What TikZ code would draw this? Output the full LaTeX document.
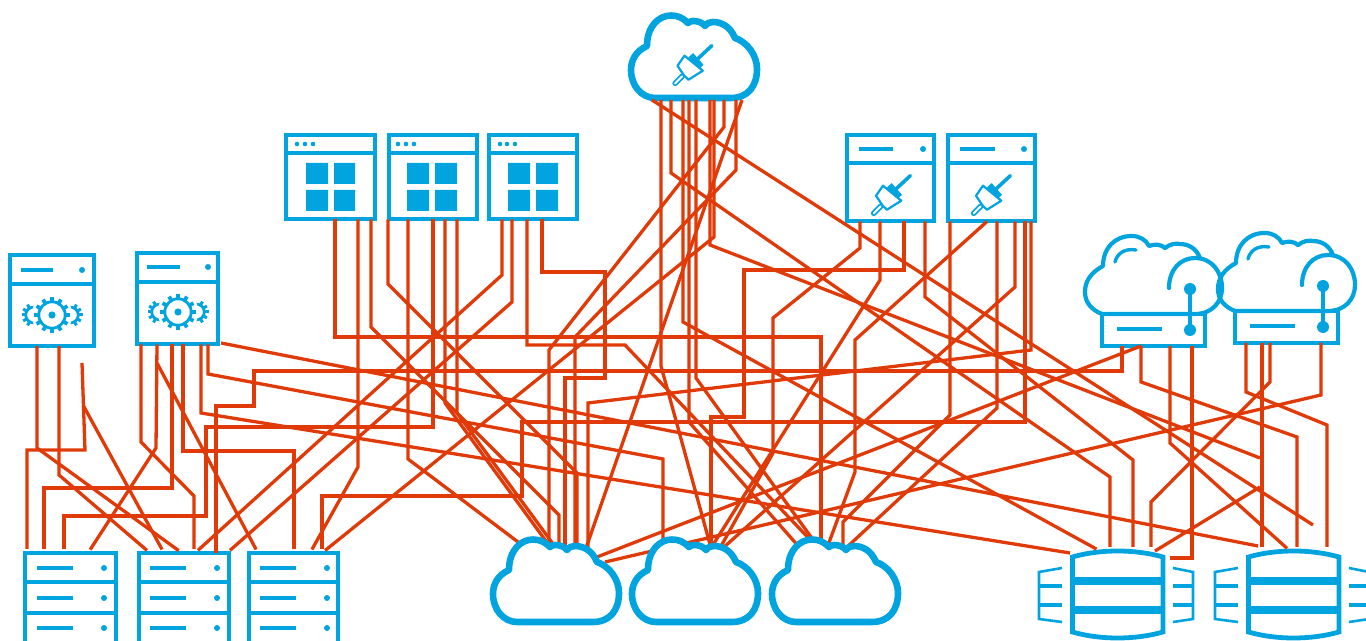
\documentclass[tikz,border=0pt]{standalone}
\usetikzlibrary{fit}
\definecolor{netblue}{HTML}{02A4E0}
\definecolor{wirered}{HTML}{E03A08}
\tikzset{
  px/.style={x=0.5pt,y=-0.5pt},
  devbox/.style={draw=netblue,line width=2pt,inner sep=0pt,outer sep=0pt},
  anchorbox/.style={inner sep=0pt,outer sep=0pt},
  wire/.style={draw=wirered,line width=1.65pt},
  wirein/.style={wire,shorten >=2pt},
  bluethin/.style={draw=netblue,line width=2pt},
  dashbar/.style={draw=netblue,line width=2pt},
  dotfill/.style={fill=netblue,draw=none},
  cloudline/.style={draw=netblue,line width=3.3pt,fill=white},
}
% header bar of a server: divider, dash and status dot
\newcommand\hdr[7]{% x1 x2 ydiv dash1 dash2 ydash xdot
  \draw[bluethin] (#1,#3) -- (#2,#3);
  \draw[dashbar] (#4,#6) -- (#5,#6);
  \fill[dotfill] (#7,#6) circle[radius=3];
}
\newcommand\gearicon[2]{%
  \begin{scope}[shift={(#1,#2)}]
    \foreach \sx/\st in {-18.5/180,18.5/0}{
      \begin{scope}[shift={(\sx,0)}]
        \draw[draw=netblue,line width=1.4pt] (0,0) circle[radius=7.8];
        \foreach \a in {-60,-30,...,60}{\draw[draw=netblue,line width=1.5pt] (\st+\a:7.8) -- (\st+\a:12);}
      \end{scope}
    }
    \fill[white] (0,0) circle[radius=20.5];
    \draw[draw=netblue,line width=1.4pt] (0,0) circle[radius=13.2];
    \foreach \a in {0,30,...,330}{\draw[draw=netblue,line width=1.9pt] (\a:13.2) -- (\a:17.8);}
    \fill[dotfill] (0,0) circle[radius=3.6];
  \end{scope}
}
\newcommand\plugicon[2]{%
  \begin{scope}[shift={(#1,#2)}]
    \draw[draw=netblue,line width=1.8pt,line cap=round] (19.3,-18.3) -- (5,-5);
    \draw[draw=netblue,line width=3.2pt] (-1.7,-8.8) -- (8.6,3);
    \draw[draw=netblue,line width=1.1pt,line join=round,fill=white] (-8,-8.3) -- (10.3,6.7) -- (-4,15.7) -- (-8.3,11.7) -- (-15,1.7) -- cycle;
    \draw[draw=netblue,line width=2.8pt,line cap=round] (-10.3,12.3) -- (-17.3,19.3);
    \draw[draw=white,line width=1pt,line cap=round] (-10.3,12.3) -- (-17.3,19.3);
  \end{scope}
}
\newcommand\cloudshape[2]{%
  \begin{scope}[shift={(#1,#2)}]
    \draw[cloudline,line join=round] (37,92) -- (113,92)
      .. controls (130,92) and (139,80) .. (139,63)
      .. controls (139,49) and (129,36) .. (117,32)
      .. controls (112,20) and (103,16) .. (95,16)
      .. controls (92,16) and (89,17) .. (87,20)
      .. controls (84,16) and (79,15) .. (75,15)
      .. controls (73,15) and (71,16) .. (70,17)
      .. controls (65,12) and (60,9.5) .. (53,9.5)
      .. controls (41,9.5) and (29,20) .. (29,40)
      .. controls (18,45) and (13,54) .. (13,64)
      .. controls (13,80) and (24,92) .. (37,92) -- cycle;
  \end{scope}
}
\newcommand\hostcloud[2]{%
  \begin{scope}[shift={(#1,#2)}]
    \draw[draw=netblue,line width=2.1pt,line join=round,line cap=round]
      (1169,288) .. controls (1169,270) and (1180,258) .. (1195,258)
      .. controls (1212,258) and (1222,272) .. (1222,288)
      .. controls (1222,302) and (1212,314) .. (1195,314)
      -- (1102,314)
      .. controls (1092,310) and (1085,303) .. (1085,292)
      .. controls (1085,280) and (1092,272) .. (1103,266)
      .. controls (1103,248) and (1115,236) .. (1131.5,236)
      .. controls (1140,236) and (1146,240) .. (1149,246)
      .. controls (1154,244) and (1161,244) .. (1165,248)
      .. controls (1170,244) and (1176,243) .. (1180,244)
      .. controls (1190,244) and (1197,250) .. (1200,258);
    \draw[draw=netblue,line width=1.7pt,line cap=round] (1115,262) .. controls (1117,254) and (1124,248) .. (1136,250);
    \draw[dashbar] (1117,329) -- (1162,329);
    \draw[draw=netblue,line width=1.6pt] (1190,289) -- (1190,330);
    \fill[dotfill] (1190,289) circle[radius=6];
    \fill[dotfill] (1190,330) circle[radius=6];
  \end{scope}
}
\newcommand\dbshape[1]{%
  \begin{scope}[shift={(#1,0)}]
    \draw[draw=netblue,line width=2.4pt,line join=miter] (1072.5,557) .. controls (1100,549) and (1135,549) .. (1163,557)
      -- (1163,632) .. controls (1135,640) and (1100,640) .. (1072.5,632) -- cycle;
    \draw[draw=netblue,line width=3.6pt] (1072.5,581) -- (1163,581);
    \draw[draw=netblue,line width=3.6pt] (1072.5,610) -- (1163,610);
    \draw[draw=netblue,line width=1.3pt] (1062,568) -- (1039,572) -- (1039,619) -- (1062,622);
    \draw[draw=netblue,line width=1.3pt] (1173,568) -- (1193,572) -- (1193,619) -- (1173,622);
    \draw[draw=netblue,line width=2pt] (1039,586) -- (1062,586);
    \draw[draw=netblue,line width=2pt] (1039,605) -- (1062,605);
    \draw[draw=netblue,line width=2pt] (1173,586) -- (1193,586);
    \draw[draw=netblue,line width=2pt] (1173,605) -- (1193,605);
  \end{scope}
}
\begin{document}
\begin{tikzpicture}[px]
\useasboundingbox (0,0) rectangle (1366,641);
% ---------- devices ----------
\node[devbox,fit={(10,255)(93.5,346)}] (gearA) {};
\hdr{10}{93.5}{284}{21}{53}{270}{82}
\gearicon{52}{315}
\node[devbox,fit={(137,253.5)(218,344.5)}] (gearB) {};
\hdr{137}{218}{282}{147}{180}{267}{208}
\gearicon{178}{312}
% application windows
\foreach \nm/\xa/\xb/\da/\db/\dc/\sa/\sb/\sc/\sd in {
   app1/286/375/297/305/313/306/328/334/355,
   app2/388.5/476.5/398/406/414/407/429/435/457,
   app3/489/577/500/507/515/508/530/536/558}{
  \node[devbox,fit={(\xa,135)(\xb,219.5)}] (\nm) {};
  \draw[bluethin] (\xa,153) -- (\xb,153);
  \fill[dotfill] (\da,144) circle[radius=2.3] (\db,144) circle[radius=2.3] (\dc,144) circle[radius=2.3];
  \fill[netblue] (\sa,163) rectangle (\sb,184) (\sc,163) rectangle (\sd,184)
                 (\sa,190) rectangle (\sb,211) (\sc,190) rectangle (\sd,211);
}
% plug servers
\node[devbox,fit={(846.5,135)(933.5,221.5)}] (plugA) {};
\hdr{846.5}{933.5}{163}{859}{893}{149}{923}
\plugicon{891}{194}
\node[devbox,fit={(947.5,135)(1034.5,221.5)}] (plugB) {};
\hdr{947.5}{1034.5}{163}{960}{995}{149}{1024}
\plugicon{991}{194}
% top cloud
\node[anchorbox,fit={(631,20)(756,100)}] (cloudT) {};
\cloudshape{618}{6}
\plugicon{692.5}{64}
% hybrid clouds
\node[devbox,fit={(1102,314.5)(1205,346)}] (hostA) {};
\hostcloud{0}{0}
\node[devbox,fit={(1235,311.5)(1338,343)}] (hostB) {};
\hostcloud{133}{-3}
% racks
\foreach \nm/\xa/\xb/\da/\db/\dt in {rack1/25/116/37/73/104,rack2/139/229/150/186/217,rack3/249/338/260/296/327}{
  \node[devbox,fit={(\xa,553)(\xb,650)}] (\nm) {};
  \draw[bluethin] (\xa,582) -- (\xb,582) (\xa,613) -- (\xb,613);
  \draw[dashbar] (\da,568) -- (\db,568) (\da,598) -- (\db,598) (\da,628) -- (\db,628);
  \fill[dotfill] (\dt,568) circle[radius=3] (\dt,598) circle[radius=3] (\dt,628) circle[radius=3];
}
% targets
\node[anchorbox,fit={(493,548)(619,622)}] (c1) {};
\node[anchorbox,fit={(632,548)(758,622)}] (c2) {};
\node[anchorbox,fit={(772,548)(898,622)}] (c3) {};
\node[anchorbox,fit={(1073,551)(1163,638)}] (db1) {};
\node[anchorbox,fit={(1249,551)(1339,638)}] (db2) {};
\dbshape{0}
\dbshape{176}
% free ends
\coordinate (a3) at (82,363);
\coordinate (a3b) at (83,405);
\coordinate (b3) at (157,363);
\coordinate (bE) at (221,343);
\coordinate (dbAin) at (1070,553);
\coordinate (dbBin) at (1258,546);
\coordinate (farEnd) at (1313,525);
\coordinate (mid1) at (1260,458);
\coordinate (mid2) at (1260,487);
\coordinate (cE1) at (597,557);
\coordinate (cE2) at (605,562);
\coordinate (hook) at (1170,558);
% ---------- wires ----------
% gear server A
\draw[wirein] (37,0 |- gearA.south) -- (37,448) -- (182,0 |- rack2.north);
\draw[wirein] (59,0 |- gearA.south) -- (59,475) -- (150,0 |- rack2.north);
\draw[wirein] (a3) -- (85,450) -- (27,450) -- (27,0 |- rack1.north);
\draw[wirein] (a3b) -- (164,0 |- rack2.north);
% gear server B
\draw[wirein] (141,0 |- gearB.south) -- (141,442) -- (194,496) -- (194,0 |- rack2.north);
\draw[wirein] (157,0 |- gearB.south) -- (156,448) -- (88,0 |- rack1.north);
\draw[wirein] (b3) -- (258,0 |- rack3.north);
\draw[wirein] (172,0 |- gearB.south) -- (172,488) -- (44,488) -- (44,0 |- rack1.north);
\draw[wirein] (183,0 |- gearB.south) -- (183,451) -- (294,451) -- (294,0 |- rack3.north);
\draw[wire] (201,0 |- gearB.south) -- (201,413) -- (dbAin);
\draw[wire] (208,0 |- gearB.south) -- (208,374) -- (663,459) -- (663,0 |- c2.north);
\draw[wire] (bE) -- (dbBin);
% long orthogonal runs
\draw[wire] (216,0 |- rack2.north) -- (216,406) -- (254,406) -- (254,371) -- (1122,371) -- (1122,0 |- hostA.south);
\draw[wirein] (433,0 |- app2.south) -- (433,427) -- (206,427) -- (206,516) -- (64,516) -- (64,0 |- rack1.north);
\draw[wire] (335,0 |- app1.south) -- (335,337) -- (821,337) -- (821,0 |- c3.north);
\draw[wirein] (1025,0 |- plugB.south) -- (1025,422) -- (522,422) -- (522,496) -- (322,496) -- (322,0 |- rack3.north);
% applications
\draw[wirein] (358,0 |- app1.south) -- (358,467) -- (310,0 |- rack3.north);
\draw[wire] (371,0 |- app1.south) -- (371,327) -- (559,515) -- (559,0 |- c1.north);
\draw[wire] (388,0 |- app2.south) -- (388,284) -- (577,473) -- (577,0 |- c1.north);
\draw[wire] (408,0 |- app2.south) -- (408,459) -- (526,0 |- c1.north);
\draw[wire] (445,0 |- app2.south) -- (445,403) -- (551,0 |- c1.north);
\draw[wire] (457,0 |- app2.south) -- (457,413) -- (556,0 |- c1.north);
\draw[wirein] (502,0 |- app3.south) -- (502,275) -- (195,0 |- rack2.north);
\draw[wirein] (512,0 |- app3.south) -- (512,302) -- (227,0 |- rack2.north);
\draw[wire] (527,0 |- app3.south) -- (527,345) -- (625,345) -- (818,0 |- c3.north);
\draw[wire] (542,0 |- app3.south) -- (542,272) -- (605,272) -- (605,378) -- (565,378) -- (565,0 |- c1.north);
% top cloud
\draw[wire] (652,0 |- cloudT.south) -- (farEnd);
\draw[wire] (661,0 |- cloudT.south) -- (661,366) -- (711,0 |- c2.north);
\draw[wirein] (671,0 |- cloudT.south) -- (671,173) -- (1110,477) -- (1110,0 |- db1.north);
\draw[wirein] (683,0 |- cloudT.south) -- (683,322) -- (1100,0 |- db1.north);
\draw[wire] (689,0 |- cloudT.south) -- (689,422) -- (800,0 |- c3.north);
\draw[wire] (696,0 |- cloudT.south) -- (696,378) -- (819,0 |- c3.north);
\draw[wire] (710,0 |- cloudT.south) -- (710,245) -- (mid1);
\draw[wirein] (714,0 |- cloudT.south) -- (714,237) -- (322,0 |- rack3.north);
\draw[wire] (724,0 |- cloudT.south) -- (724,127) -- (549,350) -- (549,0 |- c1.north);
\draw[wire] (736,0 |- cloudT.south) -- (736,170) -- (575,337) -- (575,0 |- c1.north);
\draw[wire] (742,0 |- cloudT.south) -- (586,0 |- c1.north);
% plug server A
\draw[wire] (860,0 |- plugA.south) -- (860,248) -- (773,318) -- (773,453) -- (720,0 |- c2.north);
\draw[wire] (880,0 |- plugA.south) -- (880,280) -- (711,0 |- c2.north);
\draw[wire] (904,0 |- plugA.south) -- (904,270) -- (744,270) -- (744,417) -- (711,417) -- (711,0 |- c2.north);
\draw[wirein] (925,0 |- plugA.south) -- (925,297) -- (1133,460) -- (1133,0 |- db1.north);
% plug server B
\draw[wire] (950,0 |- plugB.south) -- (950,415) -- (843,522) -- (843,0 |- c3.north);
\draw[wire] (987,0 |- plugB.south) -- (855,340) -- (855,472) -- (827,0 |- c3.north);
\draw[wire] (997,0 |- plugB.south) -- (997,408) -- (846,0 |- c3.north);
\draw[wire] (1015,0 |- plugB.south) -- (1015,287) -- (723,0 |- c2.north);
\draw[wire] (1031,0 |- plugB.south) -- (1031,350) -- (588,403) -- (588,0 |- c1.north);
% hybrid clouds
\draw[wire] (1141,0 |- hostA.south) -- (cE1);
\draw[wirein] (1141,0 |- hostA.south) -- (1141,382) -- (1297,437) -- (1297,0 |- db2.north);
\draw[wirein] (1170,0 |- hostA.south) -- (1170,443) -- (1290,0 |- db2.north);
\draw[wire] (1192,0 |- hostA.south) -- (1192,558) -- (hook);
\draw[wirein] (1246,0 |- hostB.south) -- (1246,392) -- (1327,425) -- (1327,0 |- db2.north);
\draw[wirein] (1262,0 |- hostB.south) -- (1262,0 |- db2.north);
\draw[wirein] (1270,0 |- hostB.south) -- (1270,382) -- (1151,502) -- (1151,0 |- db1.north);
\draw[wire] (1321,0 |- hostB.south) -- (1321,395) -- (cE2);
\draw[wire] (mid2) -- (1155,0 |- db1.north);
% bottom clouds over the wire ends
\cloudshape{480}{530}
\cloudshape{619}{530}
\cloudshape{759}{530}
\end{tikzpicture}
\end{document}
